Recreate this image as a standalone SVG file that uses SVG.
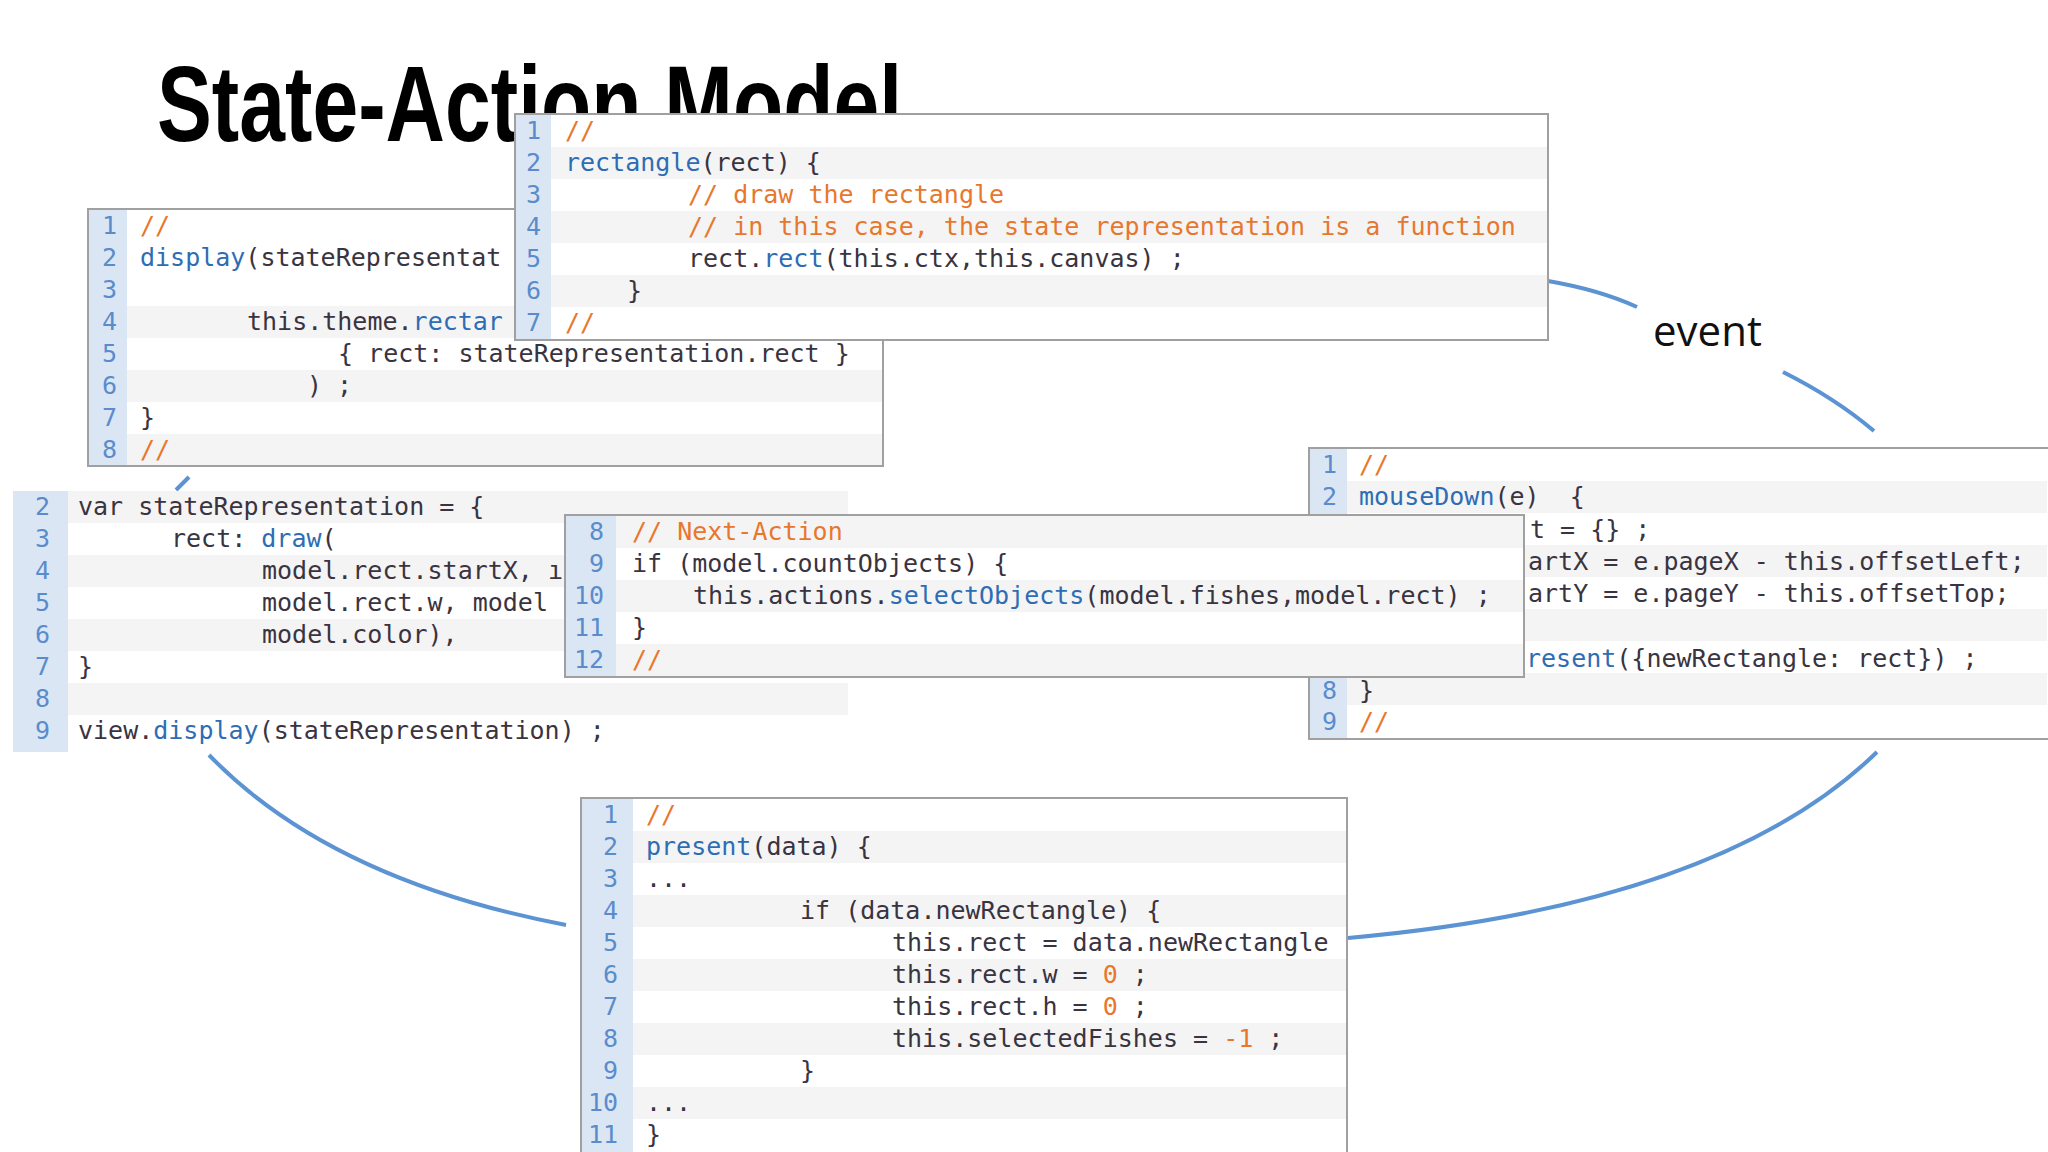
<svg xmlns="http://www.w3.org/2000/svg" width="2048" height="1152" viewBox="0 0 2048 1152">
<style>
.bg{fill:#fff;stroke:#a0a0a0;stroke-width:2}
.gut{fill:#dbe6f4}
.alt{fill:#f4f4f4}
.ln{font-family:"DejaVu Sans Mono","Liberation Mono",monospace;font-size:25px;fill:#5a8ccc;text-anchor:end}
.c{font-family:"DejaVu Sans Mono","Liberation Mono",monospace;font-size:25px;fill:#3a3340;white-space:pre}
.f{fill:#2e6db4}
.cm{fill:#e8772e}
.arc{fill:none;stroke:#5b93d3;stroke-width:4}
</style>
<defs><clipPath id="tc"><rect x="0" y="0" width="2048" height="114"/><rect x="0" y="0" width="515" height="160"/></clipPath></defs>
<rect width="2048" height="1152" fill="#fff"/>
<text x="157" y="141" clip-path="url(#tc)" font-family="Liberation Sans,Arial,sans-serif" font-weight="bold" font-size="108" textLength="745" lengthAdjust="spacingAndGlyphs" fill="#000">State-Action Model</text>

<g id="connectors">
<path class="arc" d="M1548,281 Q1600,290 1637,307"/>
<path class="arc" d="M1783,372 Q1835,398 1874,431"/>
<path class="arc" d="M176,490 L189,477"/>
<path class="arc" d="M209,755 Q330,880 566,925"/>
<path class="arc" d="M1348,938 Q1720,905 1877,752"/>
</g>
<text x="1653" y="346" font-family="Open Sans,Noto Sans,sans-serif" font-size="42" fill="#111">event</text>

<g id="panelA">
<rect class="bg" x="88" y="209" width="795" height="257"/>
<rect class="alt" x="127" y="306" width="755" height="32"/><rect class="alt" x="127" y="370" width="755" height="32"/><rect class="alt" x="127" y="434" width="755" height="31"/>
<rect class="gut" x="89" y="210" width="38" height="255"/>
<g class="ln"><text x="117" y="234">1</text><text x="117" y="266">2</text><text x="117" y="298">3</text><text x="117" y="330">4</text><text x="117" y="362">5</text><text x="117" y="394">6</text><text x="117" y="426">7</text><text x="117" y="458">8</text></g>
<text class="c" x="140" y="234"><tspan class="cm">//</tspan></text>
<text class="c" x="140" y="266"><tspan class="f">display</tspan>(stateRepresentat</text>
<text class="c" x="247" y="330">this.theme.<tspan class="f">rectar</tspan></text>
<text class="c" x="338" y="362">{ rect: stateRepresentation.rect }</text>
<text class="c" x="307" y="394">) ;</text>
<text class="c" x="140" y="426">}</text>
<text class="c" x="140" y="458"><tspan class="cm">//</tspan></text>
</g>

<g id="panelB">
<rect class="bg" x="515" y="114" width="1033" height="226"/>
<rect class="alt" x="551" y="147" width="996" height="32"/><rect class="alt" x="551" y="211" width="996" height="32"/><rect class="alt" x="551" y="275" width="996" height="32"/>
<rect class="gut" x="516" y="115" width="35" height="224"/>
<g class="ln"><text x="541" y="139">1</text><text x="541" y="171">2</text><text x="541" y="203">3</text><text x="541" y="235">4</text><text x="541" y="267">5</text><text x="541" y="299">6</text><text x="541" y="331">7</text></g>
<text class="c" x="565" y="139"><tspan class="cm">//</tspan></text>
<text class="c" x="565" y="171"><tspan class="f">rectangle</tspan>(rect) {</text>
<text class="c cm" x="688" y="203">// draw the rectangle</text>
<text class="c cm" x="688" y="235">// in this case, the state representation is a function</text>
<text class="c" x="688" y="267">rect.<tspan class="f">rect</tspan>(this.ctx,this.canvas) ;</text>
<text class="c" x="627" y="299">}</text>
<text class="c" x="565" y="331"><tspan class="cm">//</tspan></text>
</g>

<g id="panelC">
<rect x="13" y="491" width="836" height="261" fill="#fff"/>
<rect class="alt" x="68" y="491" width="780" height="32"/><rect class="alt" x="68" y="555" width="780" height="32"/><rect class="alt" x="68" y="619" width="780" height="32"/><rect class="alt" x="68" y="683" width="780" height="32"/>
<rect class="gut" x="13" y="491" width="55" height="261"/>
<g class="ln"><text x="50" y="515">2</text><text x="50" y="547">3</text><text x="50" y="579">4</text><text x="50" y="611">5</text><text x="50" y="643">6</text><text x="50" y="675">7</text><text x="50" y="707">8</text><text x="50" y="739">9</text></g>
<text class="c" x="78" y="515">var stateRepresentation = {</text>
<text class="c" x="171" y="547">rect: <tspan class="f">draw</tspan>(</text>
<text class="c" x="262" y="579">model.rect.startX, ı</text>
<text class="c" x="262" y="611">model.rect.w, model</text>
<text class="c" x="262" y="643">model.color),</text>
<text class="c" x="78" y="675">}</text>
<text class="c" x="78" y="739">view.<tspan class="f">display</tspan>(stateRepresentation) ;</text>
</g>

<g id="panelE">
<rect class="bg" x="1309" y="448" width="745" height="291"/>
<rect class="alt" x="1347" y="481" width="700" height="32"/><rect class="alt" x="1347" y="545" width="700" height="32"/><rect class="alt" x="1347" y="609" width="700" height="32"/><rect class="alt" x="1347" y="673" width="700" height="32"/>
<rect class="gut" x="1310" y="449" width="37" height="289"/>
<g class="ln"><text x="1337" y="473">1</text><text x="1337" y="505">2</text><text x="1337" y="699">8</text><text x="1337" y="730">9</text></g>
<text class="c" x="1359" y="473"><tspan class="cm">//</tspan></text>
<text class="c" x="1359" y="505"><tspan class="f">mouseDown</tspan>(e)  {</text>
<text class="c" x="1530" y="538">t = {} ;</text>
<text class="c" x="1528" y="570">artX = e.pageX - this.offsetLeft;</text>
<text class="c" x="1528" y="602">artY = e.pageY - this.offsetTop;</text>
<text class="c" x="1526" y="667"><tspan class="f">resent</tspan>({newRectangle: rect}) ;</text>
<text class="c" x="1359" y="699">}</text>
<text class="c" x="1359" y="730"><tspan class="cm">//</tspan></text>
</g>

<g id="panelD">
<rect class="bg" x="565" y="515" width="959" height="162"/>
<rect class="alt" x="616" y="516" width="907" height="32"/><rect class="alt" x="616" y="580" width="907" height="32"/><rect class="alt" x="616" y="644" width="907" height="32"/>
<rect class="gut" x="566" y="516" width="50" height="160"/>
<g class="ln"><text x="604" y="540">8</text><text x="604" y="572">9</text><text x="604" y="604">10</text><text x="604" y="636">11</text><text x="604" y="668">12</text></g>
<text class="c cm" x="632" y="540">// Next-Action</text>
<text class="c" x="632" y="572">if (model.countObjects) {</text>
<text class="c" x="693" y="604">this.actions.<tspan class="f">selectObjects</tspan>(model.fishes,model.rect) ;</text>
<text class="c" x="632" y="636">}</text>
<text class="c cm" x="632" y="668">//</text>
</g>

<g id="panelF">
<rect class="bg" x="581" y="798" width="766" height="360"/>
<rect class="alt" x="633" y="831" width="713" height="32"/><rect class="alt" x="633" y="895" width="713" height="32"/><rect class="alt" x="633" y="959" width="713" height="32"/><rect class="alt" x="633" y="1023" width="713" height="32"/><rect class="alt" x="633" y="1087" width="713" height="32"/>
<rect class="gut" x="582" y="799" width="51" height="353"/>
<g class="ln"><text x="618" y="823">1</text><text x="618" y="855">2</text><text x="618" y="887">3</text><text x="618" y="919">4</text><text x="618" y="951">5</text><text x="618" y="983">6</text><text x="618" y="1015">7</text><text x="618" y="1047">8</text><text x="618" y="1079">9</text><text x="618" y="1111">10</text><text x="618" y="1143">11</text></g>
<text class="c cm" x="646" y="823">//</text>
<text class="c" x="646" y="855"><tspan class="f">present</tspan>(data) {</text>
<text class="c" x="646" y="887">...</text>
<text class="c" x="800" y="919">if (data.newRectangle) {</text>
<text class="c" x="892" y="951">this.rect = data.newRectangle</text>
<text class="c" x="892" y="983">this.rect.w = <tspan class="cm">0</tspan> ;</text>
<text class="c" x="892" y="1015">this.rect.h = <tspan class="cm">0</tspan> ;</text>
<text class="c" x="892" y="1047">this.selectedFishes = <tspan class="cm">-1</tspan> ;</text>
<text class="c" x="800" y="1079">}</text>
<text class="c" x="646" y="1111">...</text>
<text class="c" x="646" y="1143">}</text>
</g>
</svg>
